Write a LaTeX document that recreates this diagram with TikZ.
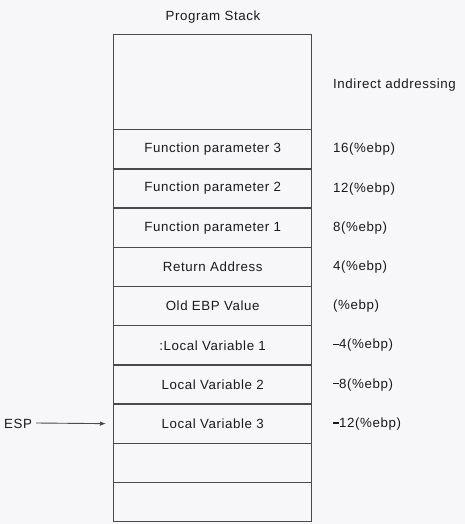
\documentclass[tikz,border=0pt]{standalone}
\usepackage{fontspec}
\setmainfont{Liberation Sans}[LetterSpace=4.5]
\usetikzlibrary{arrows.meta}
\definecolor{bg}{HTML}{F7F7F9}
\definecolor{ln}{HTML}{4A4A4A}
\definecolor{tx}{HTML}{1A1A1A}
\newcommand{\negdash}{\rule[0.27em]{0.45em}{0.13em}}
\begin{document}
\begin{tikzpicture}[x=1pt,y=-1pt,
  cell/.style={draw=ln,line width=1.3pt,minimum width=198pt,minimum height=39.2pt,inner sep=0pt,anchor=north west,font=\fontsize{13.3}{15}\selectfont,text=tx},
  lab/.style={anchor=west,inner sep=0pt,font=\fontsize{13.3}{15}\selectfont,text=tx}]
\fill[bg] (0,0) rectangle (465,524);
\useasboundingbox (0,0) rectangle (465,524);
\node[font=\fontsize{13.3}{15}\selectfont,text=tx] (title) at (213,17.5) {Program Stack};
\node[cell,minimum height=95pt] (top) at (113,34) {};
\node[cell] (p3) at (113,129) {Function parameter 3};
\node[cell] (p2) at (113,168.2) {Function parameter 2};
\node[cell] (p1) at (113,207.4) {Function parameter 1};
\node[cell] (ra) at (113,246.6) {Return Address};
\node[cell] (ebp) at (113,285.8) {Old EBP Value};
\node[cell] (l1) at (113,325) {:Local Variable 1};
\node[cell] (l2) at (113,364.2) {Local Variable 2};
\node[cell] (l3) at (113,403.4) {Local Variable 3};
\node[cell] (e1) at (113,442.6) {};
\node[cell] (e2) at (113,481.8) {};
\node[lab] (ia) at (333,85) {Indirect addressing};
\node[lab] (a3) at (333,149.4) {16(\%ebp)};
\node[lab] (a2) at (333,188.6) {12(\%ebp)};
\node[lab] (a1) at (333,227.8) {8(\%ebp)};
\node[lab] (ar) at (333,267) {4(\%ebp)};
\node[lab] (ae) at (333,306.2) {(\%ebp)};
\node[lab] (b1) at (333,345.4) {\negdash4(\%ebp)};
\node[lab] (b2) at (333,384.6) {\negdash8(\%ebp)};
\node[lab] (b3) at (333,423.8) {\negdash12(\%ebp)};
\node[lab] (esp) at (4,423.8) {ESP};
\draw[ln,line width=0.9pt,-{Latex[length=6pt,width=4.5pt]}] (esp.east) ++(4,-0.8) -- (l3.west -| 106,0);
\end{tikzpicture}
\end{document}
